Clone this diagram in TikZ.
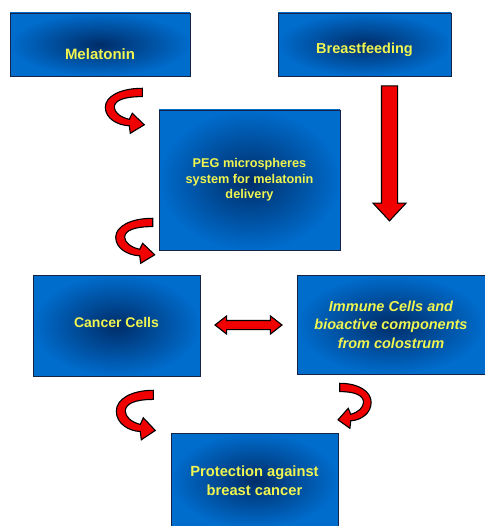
\documentclass[tikz,border=0pt]{standalone}
\usepackage{fontspec}
\setmainfont{Liberation Sans}
\usepackage{tikz}
\usetikzlibrary{calc, shapes.arrows}

\definecolor{boxblue}{RGB}{0,108,204}
\definecolor{boxdark}{RGB}{0,45,105}
\definecolor{boxline}{RGB}{20,35,70}
\definecolor{labelyellow}{RGB}{240,245,80}
\definecolor{arrowred}{RGB}{240,0,0}

\begin{document}
\begin{tikzpicture}[
    x=1pt, y=-1pt,
    box/.style={rectangle, draw=boxline, line width=0.6pt, inner color=boxdark, outer color=boxblue, text=labelyellow, align=center, inner sep=0pt, font=\bfseries},
    blockarrow/.style={draw=black, line width=1.1pt, fill=arrowred, line join=miter},
    curl/.pic={\filldraw[blockarrow] (0,0) .. controls (-22,0) and (-37,8) .. (-37,19) .. controls (-37,30) and (-25,37) .. (-13,37.5) -- (-12,45) -- (2,36.5) -- (-10,25) -- (-13,31) .. controls (-22,29) and (-28,24) .. (-28,19) .. controls (-28,12) and (-18,8.3) .. (0,8.3) -- cycle;}
]
\useasboundingbox (0,0) rectangle (484,526);

% Boxes
\node[box, minimum width=180, minimum height=63, text height=30pt, text depth=0pt, font=\fontsize{15}{18}\selectfont\bfseries] (mel) at (100,44.5) {Melatonin};
\node[box, minimum width=173, minimum height=63, text height=20pt, text depth=2pt, font=\fontsize{14.5}{18}\selectfont\bfseries] (breast) at (364.5,44.5) {Breastfeeding};
\node[box, minimum width=181, minimum height=140, font=\fontsize{12.7}{15.5}\selectfont\bfseries] (peg) at (249.5,180) {PEG microspheres\\system for melatonin\\delivery};
\node[box, minimum width=167, minimum height=101, text height=10pt, text depth=7pt, font=\fontsize{14}{18}\selectfont\bfseries] (cancer) at (116.5,325.5) {Cancer Cells};
\node[box, minimum width=188, minimum height=99, font=\fontsize{14.5}{18.5}\selectfont\bfseries\itshape] (immune) at (391,324.5) {Immune Cells and\\bioactive components\\from colostrum};
\node[box, minimum width=167, minimum height=95, font=\fontsize{14.7}{18.5}\selectfont\bfseries] (prot) at (254.5,480.5) {Protection against\\breast cancer};

% Straight arrows
\node[blockarrow, single arrow, rotate=-90, anchor=tail, minimum height=135, inner sep=7.5pt, single arrow head extend=8.5pt, single arrow tip angle=86] (down) at ($(breast.south)+(25,9)$) {};
\node[blockarrow, double arrow, minimum height=67, inner sep=4pt, double arrow head extend=4.5pt, double arrow tip angle=76] (both) at ($(cancer.east)!0.5!(immune.west)$) {};

% Curved arrows
\pic at ($(mel.south east)+(-48,12)$) {curl};
\pic at ($(peg.south west)+(-6,-32)$) {curl};
\pic[yscale=1.1] at ($(cancer.south east)+(-47,14)$) {curl};
\pic[xscale=-0.85] at ($(immune.south west)+(43,9)$) {curl};
\end{tikzpicture}
\end{document}
